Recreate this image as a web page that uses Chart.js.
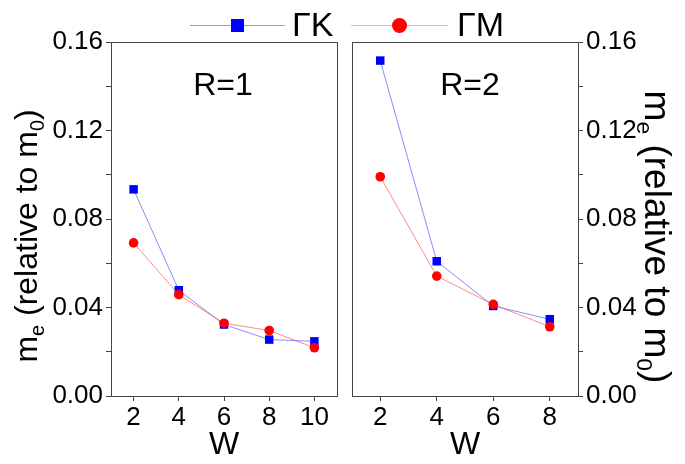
<!DOCTYPE html>
<html>
<head>
<meta charset="utf-8">
<script src="https://cdn.jsdelivr.net/npm/chart.js@4.4.1/dist/chart.umd.min.js"></script>
<style>
  html, body { margin: 0; padding: 0; background: #fff; }
  #wrap { position: relative; width: 685px; height: 464px; }
  #wrap canvas { position: absolute; left: 0; top: 0; }
</style>
</head>
<body>
<div id="wrap">
  <canvas id="left" width="685" height="464"></canvas>
  <canvas id="right" width="685" height="464"></canvas>
</div>
<script>
// values
const seriesNames = ['\u0393K', '\u0393M'];
const wLeft = [2, 4, 6, 8, 10];
const gkLeft = [0.0934, 0.0478, 0.0323, 0.0255, 0.0247];
const gmLeft = [0.0692, 0.0458, 0.0329, 0.0296, 0.0218];
const wRight = [2, 4, 6, 8];
const gkRight = [0.1516, 0.0609, 0.0407, 0.0347];
const gmRight = [0.0991, 0.0542, 0.0414, 0.0313];
const yTicks = [0, 0.02, 0.04, 0.06, 0.08, 0.10, 0.12, 0.14, 0.16];
const yLabels = ['0.00', '', '0.04', '', '0.08', '', '0.12', '', '0.16'];
const panelLabels = ['R=1', 'R=2'];

const FONT = "'Liberation Sans', Arial, sans-serif";
const AXIS = '#444';
const BLUE = '#0000ff';
const RED = '#ff0000';

Chart.defaults.font.family = FONT;
Chart.defaults.color = '#000';

function toPoints(xs, ys) {
    return xs.map((x, i) => ({ x: x, y: ys[i] }));
}

function makeDatasets(xs, gk, gm) {
    return [{
        label: seriesNames[0],
        data: toPoints(xs, gk),
        borderColor: 'rgba(60,60,255,0.75)',
        borderWidth: 0.8,
        backgroundColor: BLUE,
        pointBackgroundColor: BLUE,
        pointBorderColor: BLUE,
        pointBorderWidth: 0,
        pointStyle: 'rect',
        pointRadius: 6,
        order: 1
    }, {
        label: seriesNames[1],
        data: toPoints(xs, gm),
        borderColor: 'rgba(255,60,60,0.75)',
        borderWidth: 0.8,
        backgroundColor: RED,
        pointBackgroundColor: RED,
        pointBorderColor: RED,
        pointBorderWidth: 0,
        pointStyle: 'circle',
        pointRadius: 4.8,
        order: 0
    }];
}

// draws m_e (relative to m_0) with real subscripts
function drawRich(ctx, parts, size) {
    const sub = size * 0.62;
    let total = 0;
    parts.forEach(p => {
        ctx.font = (p.sub ? sub : size) + 'px ' + FONT;
        p.w = ctx.measureText(p.t).width;
        total += p.w;
    });
    let x = -total / 2;
    parts.forEach(p => {
        ctx.font = (p.sub ? sub : size) + 'px ' + FONT;
        ctx.fillText(p.t, x, p.sub ? size * 0.22 : 0);
        x += p.w;
    });
}

const yTitleParts = [
    { t: 'm' }, { t: 'e', sub: true }, { t: ' (relative to m' }, { t: '0', sub: true }, { t: ')' }
];

const panelPlugin = {
    id: 'panel',
    afterDraw(chart, args, opts) {
        const ctx = chart.ctx;
        const a = chart.chartArea;
        ctx.save();
        // full frame around the plot
        ctx.strokeStyle = AXIS;
        ctx.lineWidth = 1;
        ctx.strokeRect(Math.round(a.left) + 0.5, Math.round(a.top) + 0.5,
            Math.round(a.right - a.left), Math.round(a.bottom - a.top));
        // panel label
        ctx.fillStyle = '#000';
        ctx.font = '32px ' + FONT;
        ctx.textAlign = 'center';
        ctx.textBaseline = 'alphabetic';
        ctx.fillText(opts.label, opts.labelX, 95);
        // y axis title
        ctx.textAlign = 'left';
        ctx.translate(opts.titleX, opts.titleY);
        ctx.rotate(opts.side === 'left' ? -Math.PI / 2 : Math.PI / 2);
        drawRich(ctx, yTitleParts, opts.titleSize);
        ctx.restore();
    }
};

const legendPlugin = {
    id: 'topLegend',
    afterDraw(chart, args, opts) {
        if (!opts.show) return;
        const ctx = chart.ctx;
        ctx.save();
        const items = [
            { x0: 190, x1: 285, tx: 292, ds: chart.data.datasets[0], line: 'rgba(80,80,255,0.6)' },
            { x0: 351, x1: 448, tx: 457, ds: chart.data.datasets[1], line: 'rgba(255,130,130,0.7)' }
        ];
        const y = 25;
        items.forEach(it => {
            ctx.strokeStyle = it.line;
            ctx.lineWidth = 1;
            ctx.beginPath();
            ctx.moveTo(it.x0, y + 0.5);
            ctx.lineTo(it.x1, y + 0.5);
            ctx.stroke();
            const cx = (it.x0 + it.x1) / 2;
            ctx.fillStyle = it.ds.pointBackgroundColor;
            if (it.ds.pointStyle === 'rect') {
                ctx.fillRect(cx - 6.5, y - 6, 13, 13);
            } else {
                ctx.beginPath();
                ctx.arc(cx, y + 0.5, 7.5, 0, Math.PI * 2);
                ctx.fill();
            }
            ctx.fillStyle = '#000';
            ctx.font = '34px ' + FONT;
            ctx.textBaseline = 'middle';
            ctx.textAlign = 'left';
            ctx.fillText(it.ds.label, it.tx, y + 2);
        });
        ctx.restore();
    }
};

function makeChart(id, side, xs, gk, gm, xMax, label) {
    const isLeft = side === 'left';
    return new Chart(document.getElementById(id), {
        type: 'line',
        data: { datasets: makeDatasets(xs, gk, gm) },
        plugins: [panelPlugin, legendPlugin],
        options: {
            responsive: false,
            animation: false,
            layout: {
                padding: isLeft
                    ? { left: 0, top: 42, right: 348, bottom: 0 }
                    : { left: 352, top: 42, right: 0, bottom: 0 }
            },
            plugins: {
                legend: { display: false },
                tooltip: { enabled: false },
                panel: {
                    label: label,
                    labelX: isLeft ? 223 : 470,
                    side: side,
                    titleX: isLeft ? 37 : 645,
                    titleY: isLeft ? 236 : 237,
                    titleSize: isLeft ? 32 : 37
                },
                topLegend: { show: isLeft }
            },
            scales: {
                x: {
                    type: 'linear',
                    position: 'bottom',
                    min: 1,
                    max: xMax,
                    afterBuildTicks: s => { s.ticks = xs.map(v => ({ value: v })); },
                    afterFit: s => { s.height = 68; },
                    border: { color: AXIS, width: 1 },
                    grid: { drawOnChartArea: false, drawTicks: true, tickLength: 5, color: AXIS },
                    ticks: { font: { size: 26 }, color: '#000', padding: 1, autoSkip: false, maxRotation: 0 },
                    title: { display: true, text: 'W', font: { size: 32 }, color: '#000', padding: { top: 0, bottom: 0 } }
                },
                y: {
                    type: 'linear',
                    position: side,
                    min: 0,
                    max: 0.16,
                    afterBuildTicks: s => { s.ticks = yTicks.map(v => ({ value: v })); },
                    afterFit: s => { s.width = isLeft ? 111 : 107; },
                    border: { color: AXIS, width: 1 },
                    grid: { drawOnChartArea: false, drawTicks: true, tickLength: 5, color: AXIS },
                    ticks: {
                        font: { size: 26 },
                        color: '#000',
                        padding: 3,
                        autoSkip: false,
                        callback: (v, i) => yLabels[i]
                    }
                }
            }
        }
    });
}

makeChart('left', 'left', wLeft, gkLeft, gmLeft, 11, panelLabels[0]);
makeChart('right', 'right', wRight, gkRight, gmRight, 9, panelLabels[1]);
</script>
</body>
</html>
